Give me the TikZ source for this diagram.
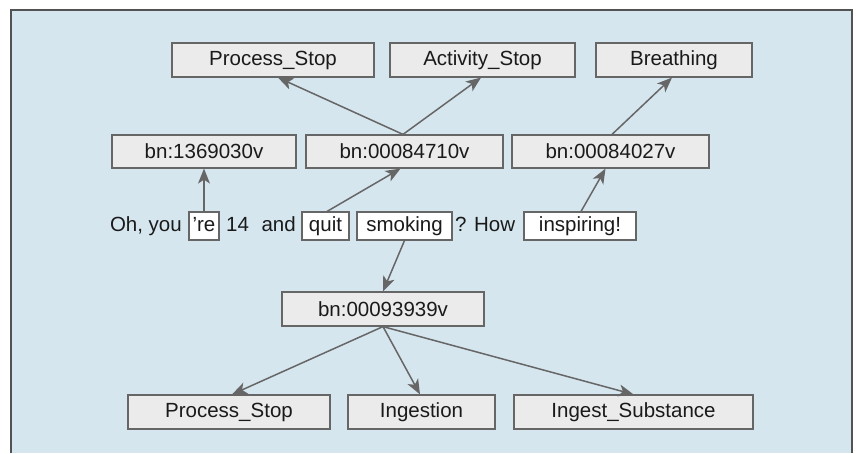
\documentclass[tikz,border=0pt]{standalone}
\usepackage{fontspec}
\setmainfont{Liberation Sans}
\usetikzlibrary{arrows.meta}
\definecolor{bgblue}{HTML}{D6E6EF}
\definecolor{boxgray}{HTML}{EBEBEB}
\definecolor{linegray}{HTML}{666666}
\definecolor{txt}{HTML}{1A1A1A}
\tikzset{
  concept/.style={draw=linegray, line width=1.2pt, fill=boxgray, inner sep=0pt,
    minimum height=34pt, text=txt, font=\fontsize{20.5}{24}\selectfont},
  word/.style={draw=linegray, line width=1.1pt, fill=white, inner sep=0pt,
    minimum height=28pt, text height=15pt, text depth=4pt, text=txt, font=\fontsize{20.5}{24}\selectfont},
  plain/.style={inner sep=0pt, text height=15pt, text depth=4pt, text=txt, font=\fontsize{20.5}{24}\selectfont},
  link/.style={draw=linegray, line width=1.5pt, -{Stealth[length=15pt,width=12pt,inset=4pt]}}
}
\begin{document}
\begin{tikzpicture}[x=1pt,y=-1pt]
\useasboundingbox (0,0) rectangle (857,453);
\fill[white] (0,0) rectangle (857,453);
\fill[bgblue] (11,10) rectangle (852,453);
\draw[linegray!80!black, line width=1.5pt] (11,453) -- (11,10) -- (852,10) -- (852,453);

% top row
\node[concept, minimum width=202pt] (ps1) at (273,60) {Process\_Stop};
\node[concept, minimum width=185pt] (as) at (482.5,60) {Activity\_Stop};
\node[concept, minimum width=156pt] (br) at (674,60) {Breathing};
% second row
\node[concept, minimum width=184pt, minimum height=33pt] (b1) at (204,151.5) {bn:1369030v};
\node[concept, minimum width=197pt, minimum height=33pt] (b2) at (404.5,151.5) {bn:00084710v};
\node[concept, minimum width=197pt, minimum height=33pt] (b3) at (610.5,151.5) {bn:00084027v};
% sentence
\node[plain, anchor=east] (oh) at (182,226) {Oh, you};
\node[word, minimum width=30pt] (re) at (204,226) {’re};
\node[plain] (and) at (261,226) {14\,\, and};
\node[word, minimum width=47pt] (quit) at (325.5,226) {quit};
\node[word, minimum width=95pt] (smoking) at (404.5,226) {smoking};
\node[plain, anchor=west] (how) at (455,226) {? How};
\node[word, minimum width=112pt] (insp) at (580,226) {inspiring!};
% lower
\node[concept, minimum width=202pt] (b4) at (383,309) {bn:00093939v};
\node[concept, minimum width=202pt] (ps2) at (229,412) {Process\_Stop};
\node[concept, minimum width=147pt] (ing) at (421.5,412) {Ingestion};
\node[concept, minimum width=239pt] (isub) at (633.5,412) {Ingest\_Substance};

% connectors
\draw[link] ([xshift=-1.5pt]b2.north) -- ([xshift=5pt]ps1.south);
\draw[link] ([xshift=-1.5pt]b2.north) -- ([xshift=-1.5pt]as.south);
\draw[link] ([xshift=1.5pt]b3.north) -- ([xshift=-2pt]br.south);
\draw[link] (re.north) -- (b1.south);
\draw[link] ([xshift=1.5pt]quit.north) -- ([xshift=-4pt]b2.south);
\draw[link] ([xshift=1pt]insp.north) -- ([xshift=-5pt]b3.south);
\draw[link] (smoking.south) -- (b4.north);
\draw[link] (b4.south) -- ([xshift=3pt]ps2.north);
\draw[link] (b4.south) -- ([xshift=-1.5pt]ing.north);
\draw[link] (b4.south) -- (isub.north);
\end{tikzpicture}
\end{document}
